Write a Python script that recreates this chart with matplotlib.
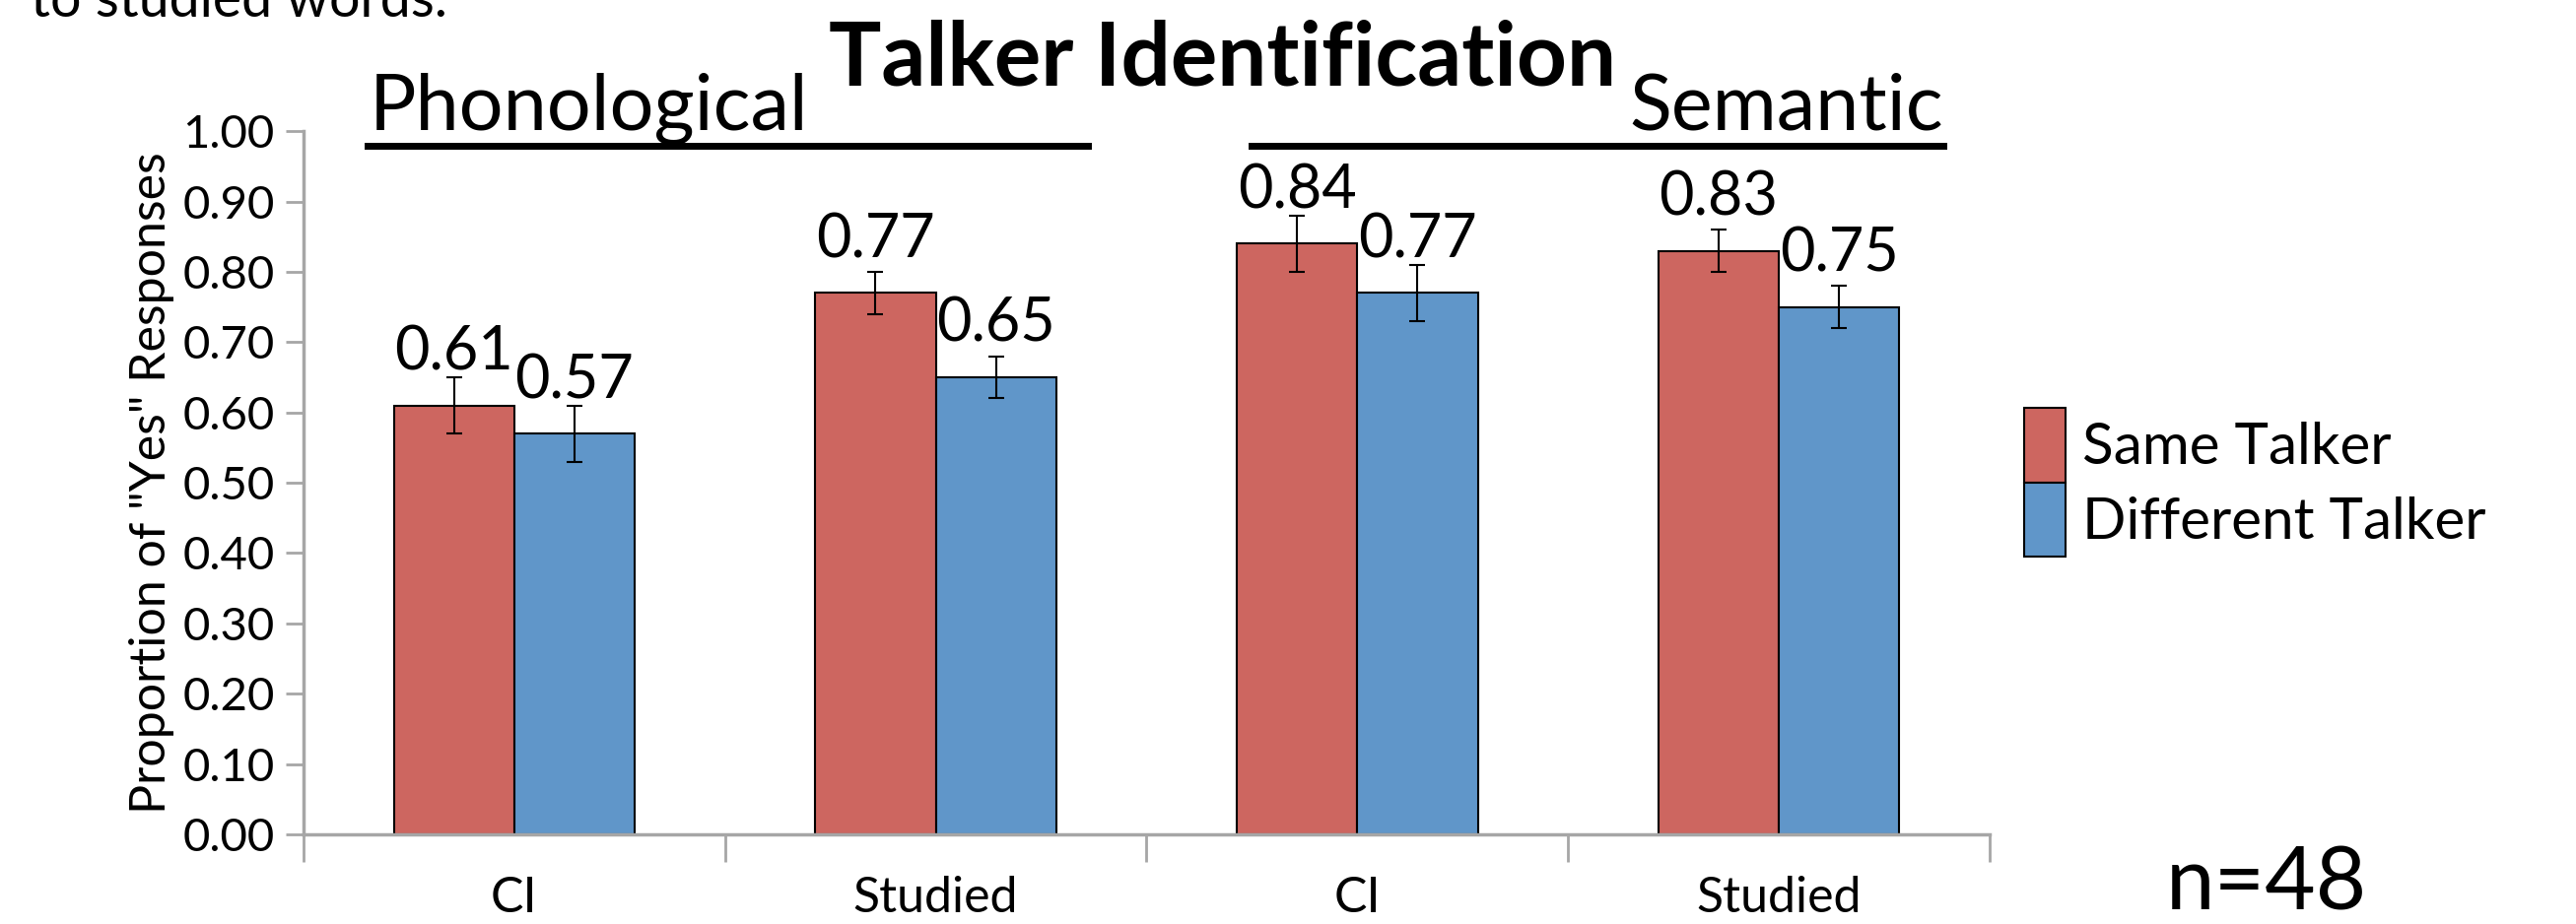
import matplotlib
matplotlib.use("Agg")
import matplotlib.pyplot as plt
from matplotlib.lines import Line2D
import numpy as np

plt.rcParams['font.family'] = ['Lato', 'DejaVu Sans']

categories = ['CI', 'Studied', 'CI', 'Studied']
same_talker = [0.61, 0.77, 0.84, 0.83]
diff_talker = [0.57, 0.65, 0.77, 0.75]
same_err = [0.04, 0.03, 0.04, 0.03]
diff_err = [0.04, 0.03, 0.04, 0.03]
yticks = [0.0, 0.1, 0.2, 0.3, 0.4, 0.5, 0.6, 0.7, 0.8, 0.9, 1.0]

red = '#CD6660'
blue = '#6096C9'
grey = '#A6A6A6'

fig = plt.figure(figsize=(26.14, 9.38), dpi=100)
ax = fig.add_axes([0.1178, 0.097, 0.6546, 0.761])

x = np.arange(len(categories))
w = 0.2857

ax.bar(x - w / 2, same_talker, w, color=red, edgecolor='black', linewidth=1.5,
       label='Same Talker', zorder=2)
ax.bar(x + w / 2, diff_talker, w, color=blue, edgecolor='black', linewidth=1.5,
       label='Different Talker', zorder=2)
ax.errorbar(x - w / 2, same_talker, yerr=same_err, fmt='none', ecolor='black',
            elinewidth=1.5, capsize=6, capthick=1.5, zorder=3)
ax.errorbar(x + w / 2, diff_talker, yerr=diff_err, fmt='none', ecolor='black',
            elinewidth=1.5, capsize=6, capthick=1.5, zorder=3)

for xi, v in zip(x - w / 2, same_talker):
    ax.text(xi, v + 0.075, f'{v:.2f}', ha='center', va='center', fontsize=44)
for xi, v in zip(x + w / 2, diff_talker):
    ax.text(xi, v + 0.075, f'{v:.2f}', ha='center', va='center', fontsize=44)

ax.set_xlim(-0.5, len(categories) - 0.5)
ax.set_ylim(0, 1.0)
ax.set_yticks(yticks)
ax.set_yticklabels([f'{t:.2f}' for t in yticks], fontsize=34)
ax.set_xticks(x)
ax.set_xticklabels(categories, fontsize=36)
ax.set_xticks(np.arange(-0.5, len(categories), 1.0), minor=True)
ax.tick_params(axis='x', which='major', length=0, pad=30)
ax.tick_params(axis='x', which='minor', length=20, width=2, color=grey, direction='out')
ax.tick_params(axis='y', length=13, width=2, color=grey, direction='out', pad=8)

for s in ['top', 'right']:
    ax.spines[s].set_visible(False)
for s in ['left', 'bottom']:
    ax.spines[s].set_color(grey)
    ax.spines[s].set_linewidth(2.5)

ax.set_ylabel('Proportion of "Yes" Responses', fontsize=36, labelpad=6)

# group headers with underlines
fig.text(0.1435, 0.860, 'Phonological', fontsize=57, ha='left', va='baseline')
fig.text(0.7545, 0.860, 'Semantic', fontsize=57, ha='right', va='baseline')
fig.add_artist(Line2D([0.1427, 0.4224], [0.842, 0.842], color='black', lw=5,
                      transform=fig.transFigure))
fig.add_artist(Line2D([0.4858, 0.7545], [0.842, 0.842], color='black', lw=5,
                      transform=fig.transFigure))

fig.text(0.4745, 0.935, 'Talker Identification', fontsize=64, fontweight='bold',
         ha='center', va='center')

# cut-off text from the slide above
fig.text(0.012, 0.982, 'to studied words.', fontsize=40, ha='left', va='baseline')

ax.legend(loc='center left', bbox_to_anchor=(0.7745, 0.478), bbox_transform=fig.transFigure,
          frameon=False, fontsize=42, handlelength=0.72, handleheight=1.62,
          handletextpad=0.3, labelspacing=0.0, borderpad=0)

fig.text(0.880, 0.042, 'n=48', fontsize=64, ha='center', va='center')

fig.savefig('out.png', dpi=100)
